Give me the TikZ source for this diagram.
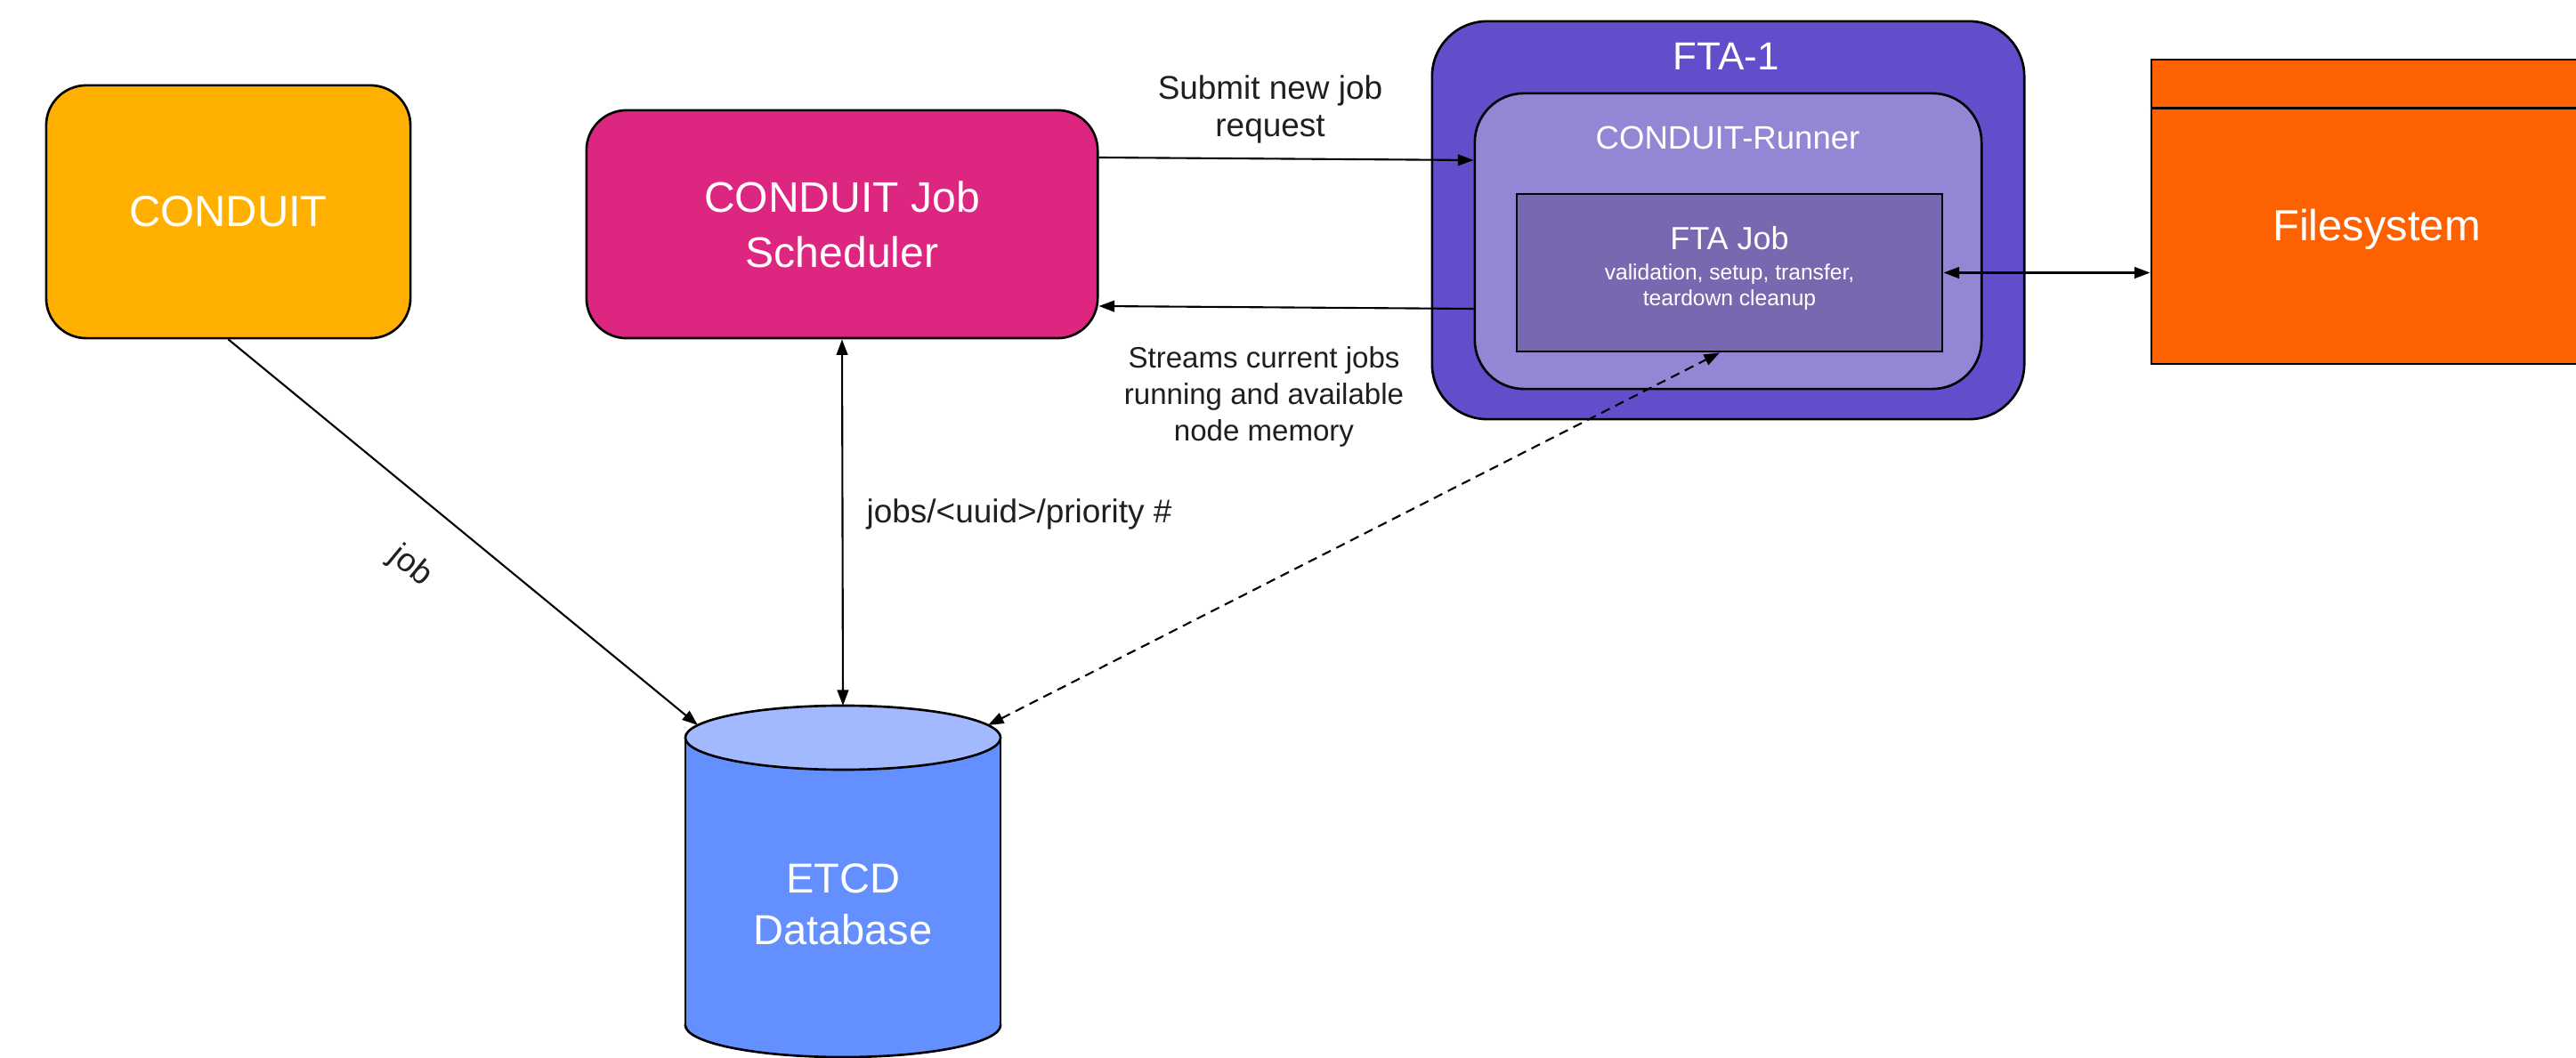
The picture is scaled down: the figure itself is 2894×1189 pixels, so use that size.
\documentclass[tikz,border=0pt]{standalone}
\usepackage{fontspec}
\setmainfont{Liberation Sans}
\usetikzlibrary{arrows.meta,calc}

\definecolor{cyellow}{HTML}{FFB000}
\definecolor{cmagenta}{HTML}{DC267F}
\definecolor{ftaouter}{HTML}{634DCB}
\definecolor{runnerfill}{HTML}{9386D4}
\definecolor{jobfill}{HTML}{7868AF}
\definecolor{fsfill}{HTML}{FE6100}
\definecolor{dbbody}{HTML}{648FFF}
\definecolor{dbtopfill}{HTML}{A2B8FF}
\definecolor{labelgray}{HTML}{1F1F1F}

\begin{document}
\begin{tikzpicture}[x=0.01cm, y=-0.01cm,
  box/.style={draw=black, line width=0.75pt, inner sep=0pt, align=center, text=white},
  rbox/.style={box, rounded corners=0.45cm},
  wtext/.style={inner sep=0pt, align=center, text=white},
  lbl/.style={inner sep=0pt, align=center, text=labelgray},
  conn/.style={draw=black, line width=0.6pt},
  arr/.style={-{Triangle[length=5pt,width=3.6pt]}},
  darr/.style={{Triangle[length=5pt,width=3.6pt]}-{Triangle[length=5pt,width=3.6pt]}},
  dashline/.style={dash pattern=on 3pt off 2pt}
]
\useasboundingbox (0,0) rectangle (2894,1189);
\clip (0,0) rectangle (2894,1189);
\fill[white] (0,0) rectangle (2894,1189);

% client and scheduler
\node[rbox, fill=cyellow, minimum width=4.09cm, minimum height=2.84cm,
      font=\fontsize{13.9}{16}\selectfont] (conduit) at (256.5,238) {CONDUIT};
\node[rbox, fill=cmagenta, minimum width=5.74cm, minimum height=2.56cm,
      font=\fontsize{13.66}{17.6}\selectfont] (sched) at (946,252) {CONDUIT Job\\Scheduler};

% agent host with runner and job
\node[rbox, rounded corners=0.62cm, fill=ftaouter, minimum width=6.65cm, minimum height=4.47cm] (fta) at (1941.5,247.5) {};
\node[wtext, font=\fontsize{12.5}{15}\selectfont] (ftatitle) at (1939,63) {FTA-1};
\node[rbox, rounded corners=0.55cm, fill=runnerfill, minimum width=5.69cm, minimum height=3.32cm] (runner) at (1941.5,271) {};
\node[wtext, font=\fontsize{10.4}{12}\selectfont] (runnertitle) at (1941,155) {CONDUIT-Runner};
\node[box, fill=jobfill, minimum width=4.78cm, minimum height=1.77cm] (ftajob) at (1943,306.5) {};
\node[wtext, font=\fontsize{7}{8.25}\selectfont] (ftajobtext) at (1943,301.5)
  {{\fontsize{10.24}{12}\selectfont FTA Job}\\[1.15pt]validation, setup, transfer,\\teardown cleanup};

% storage
\node[box, fill=fsfill, minimum width=5.6cm, minimum height=3.42cm] (fs) at (2697,238) {};
\draw[line width=0.75pt] ($(fs.north west)+(0,56)$) -- ($(fs.north east)+(0,56)$);
\node[wtext, font=\fontsize{13.9}{16}\selectfont] (fstext) at (2670,258) {Filesystem};

% key-value store cylinder
\filldraw[fill=dbbody, draw=black, line width=0.75pt] (947,1152) ellipse [x radius=1.77cm, y radius=0.36cm];
\fill[dbbody] (770,829) rectangle (1124,1152);
\draw[line width=0.75pt] (770,829) -- (770,1152) (1124,829) -- (1124,1152);
\filldraw[fill=dbtopfill, draw=black, line width=0.75pt] (947,829) ellipse [x radius=1.77cm, y radius=0.36cm];
\node[wtext, font=\fontsize{13.37}{16.5}\selectfont] (dbtext) at (947,1016) {ETCD\\Database};
\coordinate (dbtop) at (947,793);
\coordinate (dbleft) at (784,815);
\coordinate (dbright) at (1110,815);

% connectors
\draw[conn, arr] (conduit.south) -- (dbleft);
\draw[conn, darr] (sched.south) -- (dbtop);
\draw[conn, darr, dashline] (dbright) -- ($(ftajob.south)+(-11,0)$);
\draw[conn, arr] ($(sched.east)+(0,-75)$) -- ($(runner.west)+(0,-91)$);
\draw[conn, arr] ($(runner.west)+(0,76)$) -- ($(sched.east)+(0,92)$);
\draw[conn, darr] (ftajob.east) -- (ftajob.east -| fs.west);

% connector labels
\node[lbl, font=\fontsize{10.5}{12}\selectfont] (submitlbl) at (1427,123) {Submit new job\\request};
\node[lbl, font=\fontsize{9.4}{11.7}\selectfont] (streamlbl) at (1420,446) {Streams current jobs\\running and available\\node memory};
\node[lbl, font=\fontsize{10.5}{12}\selectfont, anchor=west] (prioritylbl) at (973,578) {jobs/<uuid>/priority \#};
\node[lbl, font=\fontsize{10.5}{12}\selectfont, rotate=-39.5] (joblbl) at (461,637) {job};
\end{tikzpicture}
\end{document}
